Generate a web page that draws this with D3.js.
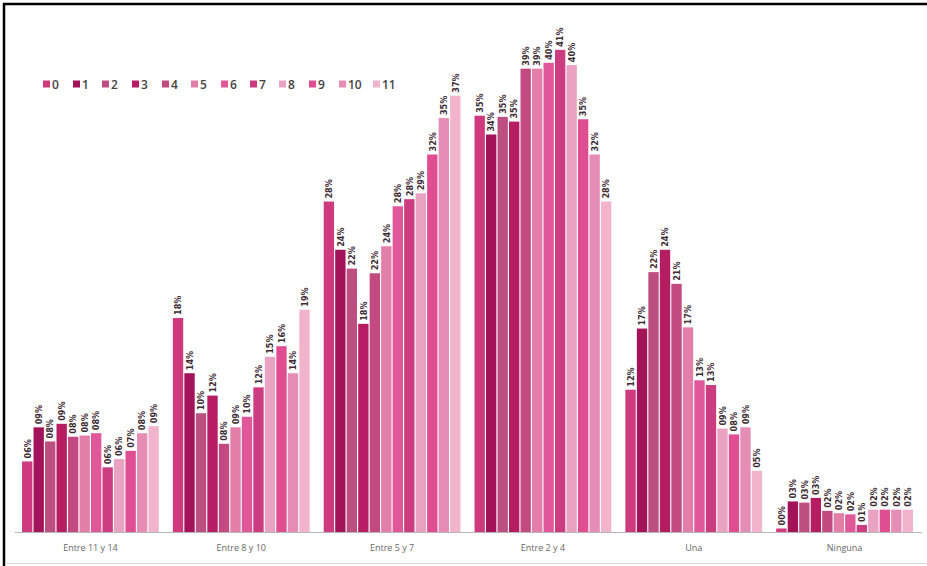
<!DOCTYPE html>
<html><head><meta charset="utf-8">
<script src="https://cdn.jsdelivr.net/npm/d3@7"></script>
<style>
html,body{margin:0;padding:0;background:#fff;}
svg{display:block;}
</style></head>
<body>
<script>
// ---- data ----
const categories = ["Entre 11 y 14","Entre 8 y 10","Entre 5 y 7","Entre 2 y 4","Una","Ninguna"];
const seriesNames = ["0","1","2","3","4","5","6","7","8","9","10","11"];
const entre11y14 = [6.0, 8.9, 7.7, 9.2, 8.1, 8.2, 8.4, 5.5, 6.2, 6.9, 8.4, 9.0];
const entre8y10  = [18.2, 13.5, 10.1, 11.6, 7.5, 8.9, 9.8, 12.3, 14.9, 15.8, 13.5, 18.9];
const entre5y7   = [28.1, 24.0, 22.4, 17.7, 22.0, 24.3, 27.7, 28.3, 28.8, 32.1, 35.2, 37.1];
const entre2y4   = [35.4, 33.8, 35.3, 34.9, 39.4, 39.4, 39.9, 41.0, 39.7, 35.1, 32.1, 28.1];
const una        = [12.1, 17.3, 22.1, 24.0, 21.1, 17.4, 12.9, 12.5, 8.8, 8.3, 8.9, 5.2];
const ninguna    = [0.3, 2.6, 2.5, 2.9, 1.8, 1.6, 1.5, 0.6, 1.9, 1.9, 1.9, 1.9];
const groupValues = [entre11y14, entre8y10, entre5y7, entre2y4, una, ninguna];
const colors = ["#cf3a7f","#a3135a","#bd4f80","#b51c62","#c24a80","#e37ea9",
                "#e0579a","#cc3c80","#eaa2c2","#e14d91","#e58db5","#f2b3cd"];

// ---- chart ----
const W = 927, H = 566;
const svg = d3.select("body").append("svg").attr("width", W).attr("height", H);

// frame
svg.append("line").attr("x1",3).attr("x2",W).attr("y1",4).attr("y2",4)
  .attr("stroke","#000").attr("stroke-width",2.5);
svg.append("line").attr("x1",4).attr("x2",4).attr("y1",3).attr("y2",H)
  .attr("stroke","#000").attr("stroke-width",2.5);
svg.append("line").attr("x1",5).attr("x2",W).attr("y1",563.5).attr("y2",563.5)
  .attr("stroke","#d8d8d8").attr("stroke-width",1);

const x0 = d3.scaleBand().domain(categories).range([15, 920])
  .paddingInner(0.078).paddingOuter(0.039);
const x1 = d3.scaleBand().domain(seriesNames).range([0, x0.bandwidth()]).padding(0.1);
const y = d3.scaleLinear().domain([0, 45]).range([532, 532 - 45 * 11.76]);

const fmt = v => d3.format("02d")(Math.round(v)) + "%";

const groups = svg.append("g").selectAll("g")
  .data(categories.map((c, i) => ({cat: c, vals: groupValues[i]})))
  .join("g")
  .attr("transform", d => `translate(${x0(d.cat)},0)`);

groups.selectAll("rect")
  .data(d => d.vals.map((v, j) => ({s: seriesNames[j], v, j})))
  .join("rect")
  .attr("x", d => x1(d.s))
  .attr("width", x1.bandwidth())
  .attr("y", d => y(d.v))
  .attr("height", d => y(0) - y(d.v))
  .attr("fill", d => colors[d.j]);

groups.selectAll("text.lbl")
  .data(d => d.vals.map((v, j) => ({s: seriesNames[j], v, j})))
  .join("text")
  .attr("class","lbl")
  .attr("transform", d => `translate(${x1(d.s) + x1.bandwidth()/2 + 3.3},${y(d.v) - 3}) rotate(-90)`)
  .attr("text-anchor","start")
  .style("font-family","'DejaVu Sans Condensed','Liberation Sans Narrow',sans-serif")
  .style("font-size","9px")
  .style("font-weight","bold")
  .attr("fill","#3d2a33")
  .text(d => fmt(d.v));

// x axis
const xAxis = svg.append("g").attr("transform", `translate(0,${y(0)})`)
  .call(d3.axisBottom(x0).tickSize(0).tickPadding(13));
xAxis.select(".domain").attr("stroke","#b5b5b5").attr("d","M15,0.5H922");
xAxis.selectAll("text")
  .style("font-family","'Open Sans',sans-serif")
  .style("font-size","9px")
  .attr("fill","#666");

// legend
const legendX = [43, 73, 102, 132, 162, 191, 221, 250, 279, 309, 339, 373];
const legend = svg.append("g").selectAll("g").data(seriesNames).join("g")
  .attr("transform", (d, i) => `translate(${legendX[i]},84)`);
legend.append("rect").attr("x",0).attr("y",-3.5).attr("width",7).attr("height",7)
  .attr("fill", (d, i) => colors[i]);
legend.append("text").attr("x",9).attr("y",4.5)
  .style("font-family","'Open Sans',sans-serif")
  .style("font-size","12px").style("font-weight","600")
  .attr("fill","#444")
  .text(d => d);
</script>
</body></html>
